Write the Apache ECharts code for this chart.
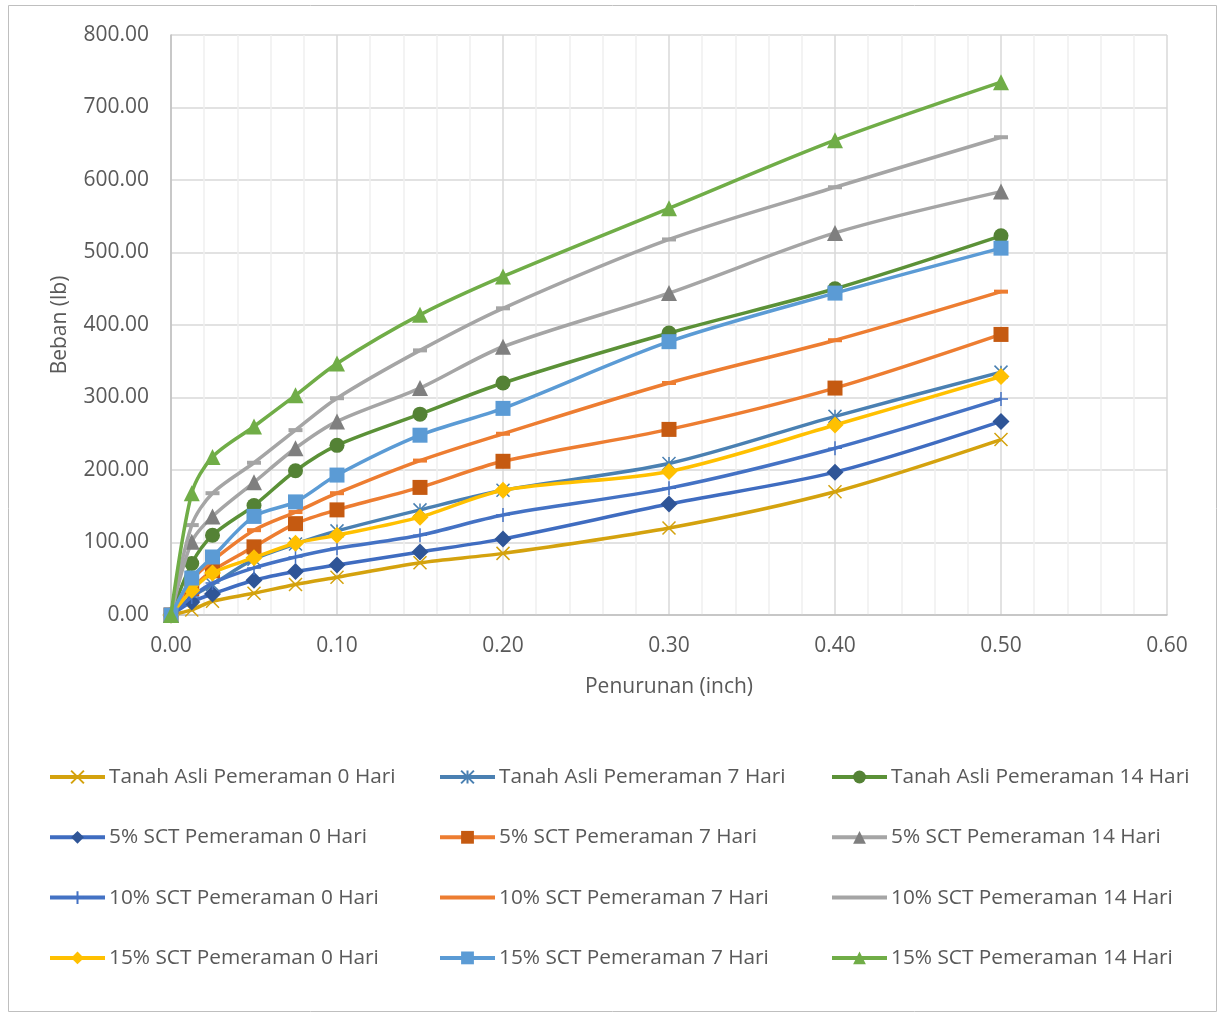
<!DOCTYPE html>
<html><head><meta charset="utf-8">
<script src="https://cdn.jsdelivr.net/npm/echarts@6/dist/echarts.min.js"></script>
<style>html,body{margin:0;padding:0;background:#fff}#c{width:1218px;height:1012px}</style>
</head><body><div id="c"></div>
<script>
const penurunan = [0, 0.0125, 0.025, 0.05, 0.075, 0.1, 0.15, 0.2, 0.3, 0.4, 0.5];
const seriesNames = [
  'Tanah Asli Pemeraman 0 Hari','Tanah Asli Pemeraman 7 Hari','Tanah Asli Pemeraman 14 Hari',
  '5% SCT Pemeraman 0 Hari','5% SCT Pemeraman 7 Hari','5% SCT Pemeraman 14 Hari',
  '10% SCT Pemeraman 0 Hari','10% SCT Pemeraman 7 Hari','10% SCT Pemeraman 14 Hari',
  '15% SCT Pemeraman 0 Hari','15% SCT Pemeraman 7 Hari','15% SCT Pemeraman 14 Hari'
];
const ta0  = [0, 7, 19, 30, 42, 52, 72, 85, 120, 170, 242];
const ta7  = [0, 25, 42, 77, 98, 116, 145, 172, 209, 274, 335];
const ta14 = [0, 71, 110, 151, 199, 234, 277, 320, 389, 450, 523];
const s5d0  = [0, 18, 29, 48, 60, 69, 87, 105, 153, 197, 267];
const s5d7  = [0, 36, 61, 94, 126, 145, 176, 212, 256, 313, 387];
const s5d14 = [0, 101, 136, 183, 230, 267, 313, 370, 444, 527, 584];
const s10d0  = [0, 25, 44, 65, 80, 92, 110, 138, 175, 230, 298];
const s10d7  = [0, 48, 75, 117, 142, 168, 213, 250, 320, 379, 446];
const s10d14 = [0, 124, 168, 210, 255, 299, 365, 423, 518, 590, 659];
const s15d0  = [0, 34, 58, 79, 99, 110, 135, 172, 198, 262, 329];
const s15d7  = [0, 51, 80, 136, 156, 193, 248, 285, 377, 444, 506];
const s15d14 = [0, 168, 218, 260, 303, 347, 414, 467, 561, 655, 735];
const allValues = [ta0, ta7, ta14, s5d0, s5d7, s5d14, s10d0, s10d7, s10d14, s15d0, s15d7, s15d14];

const X_PATH = 'path://M0 0 L10 10 M10 0 L0 10';
const AST_PATH = 'path://M0 0 L10 10 M10 0 L0 10 M5 0 L5 10';
const PLUS_PATH = 'path://M5 0 L5 10 M0 5 L10 5';
const styles = [
  {line:'#d4a20e', mk:'#d4a20e', sym:X_PATH, size:13, stroke:true},
  {line:'#4a80b2', mk:'#4a80b2', sym:AST_PATH, size:13, stroke:true},
  {line:'#5b9137', mk:'#548235', sym:'circle', size:15},
  {line:'#3f6cc0', mk:'#2f5597', sym:'diamond', size:17},
  {line:'#ed7d31', mk:'#c55a11', sym:'rect', size:15},
  {line:'#a5a5a5', mk:'#7f7f7f', sym:'triangle', size:16},
  {line:'#4472c4', mk:'#4472c4', sym:PLUS_PATH, size:14, stroke:true},
  {line:'#ed7d31', mk:'#ed7d31', sym:'rect', size:[14,4], noLegendMark:true},
  {line:'#a5a5a5', mk:'#a5a5a5', sym:'rect', size:[14,4], noLegendMark:true},
  {line:'#ffc000', mk:'#ffc000', sym:'diamond', size:17},
  {line:'#5b9bd5', mk:'#5b9bd5', sym:'rect', size:15},
  {line:'#70ad47', mk:'#70ad47', sym:'triangle', size:16}
];

const series = seriesNames.map((n, i) => {
  const st = styles[i];
  return {
    name: n, type: 'line', smooth: 0.3,
    data: penurunan.map((x, j) => [x, allValues[i][j]]),
    symbol: st.sym, symbolSize: st.size, showAllSymbol: true,
    lineStyle: {color: st.line, width: 3.5},
    itemStyle: st.stroke ? {color: st.mk, borderColor: st.mk, borderWidth: 1.5} : {color: st.mk, borderWidth: 0},
    emphasis: {disabled: true},
    z: 2 + i
  };
});

const font = 'Open Sans, Liberation Sans, Arial, sans-serif';
function legendData(col) {
  return seriesNames.map((n, i) => ({n, i})).filter(o => o.i % 3 === col).map(o =>
    styles[o.i].noLegendMark ? {name: o.n, itemStyle: {opacity: 0}} : {name: o.n});
}
const legendBase = {
  orient: 'vertical', top: 766, padding: 0, itemWidth: 55, itemHeight: 16, itemGap: 38.3,
  lineStyle: {width: 4},
  textStyle: {fontFamily: font, fontSize: 20.8, color: '#595959', lineHeight: 22, padding: [0,0,0,-1]},
  selectedMode: false
};
const chart = echarts.init(document.getElementById('c'));
chart.setOption({
  backgroundColor: '#fff',
  animation: false,
  graphic: [{type: 'rect', shape: {x: 8.5, y: 5.5, width: 1208, height: 1006}, style: {fill: 'none', stroke: '#bfbfbf', lineWidth: 1}, silent: true}],
  grid: {left: 171, right: 51, top: 35, bottom: 397, containLabel: false},
  xAxis: {
    type: 'value', min: 0, max: 0.6, interval: 0.1,
    name: 'Penurunan (inch)', nameLocation: 'middle', nameGap: 62,
    nameTextStyle: {fontFamily: font, fontSize: 21, color: '#595959'},
    axisLine: {show: true, lineStyle: {color: '#bfbfbf', width: 1.5}},
    axisTick: {show: false},
    axisLabel: {formatter: v => v.toFixed(2), fontFamily: font, fontSize: 21, color: '#595959', margin: 21},
    splitLine: {show: true, lineStyle: {color: '#d9d9d9', width: 1.5}},
    minorTick: {show: false, splitNumber: 5},
    minorSplitLine: {show: true, lineStyle: {color: '#f0f0f0', width: 1.5}}
  },
  yAxis: {
    type: 'value', min: 0, max: 800, interval: 100,
    name: 'Beban (lb)', nameLocation: 'middle', nameGap: 100, nameRotate: 90,
    nameTextStyle: {fontFamily: font, fontSize: 21, color: '#595959'},
    axisLine: {show: true, lineStyle: {color: '#bfbfbf', width: 1.5}},
    axisTick: {show: false},
    axisLabel: {formatter: v => v.toFixed(2), fontFamily: font, fontSize: 21, color: '#595959', margin: 22},
    splitLine: {show: true, lineStyle: {color: '#d9d9d9', width: 1.5}}
  },
  legend: [
    Object.assign({}, legendBase, {left: 48, data: legendData(0)}),
    Object.assign({}, legendBase, {left: 438, data: legendData(1)}),
    Object.assign({}, legendBase, {left: 830, data: legendData(2)})
  ],
  series: series
});
</script></body></html>
